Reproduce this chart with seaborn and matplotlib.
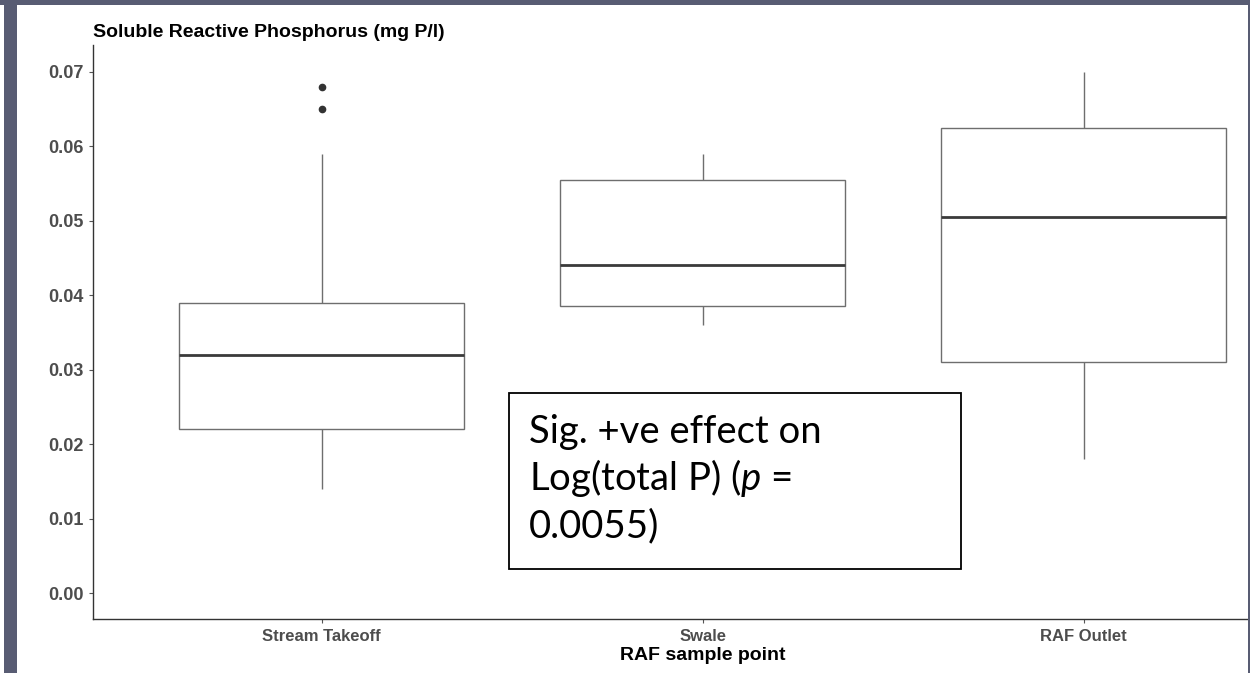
import numpy as np
import pandas as pd
import matplotlib
matplotlib.use("Agg")
import matplotlib.pyplot as plt
import matplotlib.patches as patches
import seaborn as sns

# values (mg P/l)
sites = ["Stream Takeoff", "Swale", "RAF Outlet"]
stream_takeoff = [0.014, 0.018, 0.020, 0.022, 0.026, 0.030, 0.032,
                  0.035, 0.037, 0.039, 0.059, 0.065, 0.068]
swale = [0.036, 0.0385, 0.044, 0.0555, 0.059]
raf_outlet = [0.018, 0.031, 0.0505, 0.0625, 0.070]
y_ticks = [0.00, 0.01, 0.02, 0.03, 0.04, 0.05, 0.06, 0.07]

df = pd.DataFrame({
    "site": [sites[0]] * len(stream_takeoff) + [sites[1]] * len(swale) + [sites[2]] * len(raf_outlet),
    "srp": stream_takeoff + swale + raf_outlet,
})

sns.set_style("white")
plt.rcParams["font.family"] = ["Liberation Sans", "DejaVu Sans"]
plt.rcParams["mathtext.fontset"] = "custom"
plt.rcParams["mathtext.it"] = "Lato:italic"
plt.rcParams["mathtext.rm"] = "Lato"

W, H = 1250, 673
fig = plt.figure(figsize=(W / 100, H / 100), dpi=100, facecolor="white")
ax = fig.add_axes([93 / W, (H - 619.3) / H, 1219.2 / W, (619.3 - 45) / H])

sns.boxplot(data=df, x="site", y="srp", order=sites, ax=ax, width=0.75,
            color="white", linecolor="#6e6e6e", linewidth=1.0, showcaps=False,
            medianprops=dict(color="#3a3a3a", linewidth=2.0),
            flierprops=dict(marker="o", markerfacecolor="#333333",
                            markeredgecolor="#333333", markersize=4.5))

ax.set_xlim(-0.6, 2.6)
ax.set_ylim(-0.00349, 0.07359)
ax.set_yticks(y_ticks)
ax.set_yticklabels([f"{v:.2f}" for v in y_ticks])

for s in ["top", "right"]:
    ax.spines[s].set_visible(False)
for s in ["left", "bottom"]:
    ax.spines[s].set_color("#333333")
    ax.spines[s].set_linewidth(1.0)

ax.tick_params(axis="both", bottom=True, left=True, length=3, width=0.8,
               color="#555555", direction="out", labelcolor="#4d4d4d", pad=4)
ax.tick_params(axis="x", labelsize=12)
ax.tick_params(axis="y", labelsize=13)
for lab in ax.get_xticklabels() + ax.get_yticklabels():
    lab.set_fontweight("bold")

ax.set_xlabel("RAF sample point", fontsize=14, fontweight="bold", color="black", labelpad=2)
ax.set_ylabel("")
ax.set_title("Soluble Reactive Phosphorus (mg P/l)", loc="left", fontsize=14,
             fontweight="bold", color="black", pad=5.5)

# annotation box
box = patches.Rectangle((509 / W, (H - 569) / H), 452 / W, 176 / H,
                        transform=fig.transFigure, facecolor="white",
                        edgecolor="black", linewidth=1.3, zorder=5)
fig.add_artist(box)
lines = ["Sig. +ve effect on", "Log(total P) ($p$ =", "0.0055)"]
for i, line in enumerate(lines):
    fig.text(529 / W, (H - 443 - 47 * i) / H, line, family="Lato", fontsize=27.5,
             color="black", ha="left", va="baseline", zorder=6)

# slide frame
slate = "#585c73"
fig.add_artist(patches.Rectangle((0, (H - 5) / H), 1, 5 / H, transform=fig.transFigure,
                                 facecolor=slate, edgecolor="none", zorder=10))
fig.add_artist(patches.Rectangle((4 / W, 0), 13 / W, 1, transform=fig.transFigure,
                                 facecolor=slate, edgecolor="none", zorder=10))
fig.add_artist(patches.Rectangle((1247.5 / W, 0), 2.5 / W, 1, transform=fig.transFigure,
                                 facecolor=slate, edgecolor="none", zorder=10))

fig.savefig("out.png", dpi=100, facecolor="white")
